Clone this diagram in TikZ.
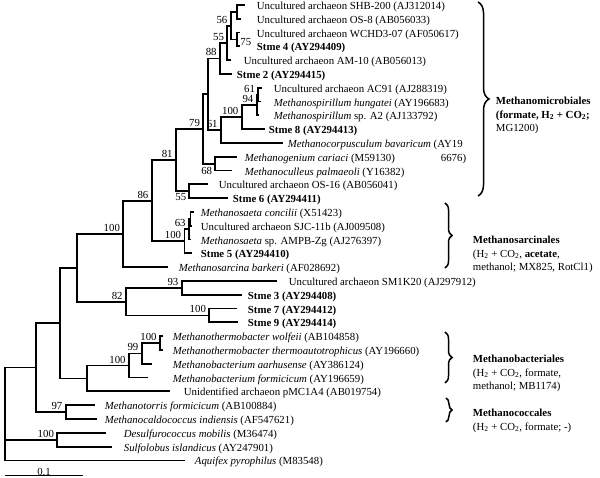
\documentclass[tikz,border=0pt]{standalone}
\usepackage{fontspec}
\setmainfont{Liberation Serif}
\usepackage{tikz}
\usetikzlibrary{decorations.pathreplacing}

\begin{document}
\begin{tikzpicture}[x=1pt, y=-1pt, line width=1.8pt,
  taxon/.style  = {anchor=base west, inner sep=0pt,
                   font=\fontsize{10.8}{13.8}\selectfont},
  strain/.style = {taxon, font=\fontsize{10.8}{13.8}\selectfont\bfseries},
  boot/.style   = {anchor=base east, inner sep=0pt, xshift=-2.5pt, yshift=2.5pt,
                   font=\fontsize{10.8}{13.8}\selectfont},
  bootat/.style = {anchor=base east, inner sep=0pt,
                   font=\fontsize{10.8}{13.8}\selectfont},
  order/.style  = {anchor=north west, align=left, inner sep=0pt,
                   font=\fontsize{10.8}{13.8}\selectfont},
  clade/.style  = {decorate, decoration={brace, amplitude=#1}, line width=1.5pt}
]
  \useasboundingbox (0,0) rectangle (600,478);

  %% leaf tips
  \coordinate (l1)  at (245,   5.0);
  \coordinate (l2)  at (241,  18.8);
  \coordinate (l3)  at (240,  32.6);
  \coordinate (l4)  at (240,  46.4);
  \coordinate (l5)  at (231,  60.2);
  \coordinate (l6)  at (232,  74.0);
  \coordinate (l7)  at (262,  87.8);
  \coordinate (l8)  at (261, 101.6);
  \coordinate (l9)  at (259, 115.4);
  \coordinate (l10) at (265, 129.2);
  \coordinate (l11) at (283, 143.0);
  \coordinate (l12) at (237, 156.8);
  \coordinate (l13) at (232, 170.6);
  \coordinate (l14) at (208, 184.4);
  \coordinate (l15) at (228, 198.2);
  \coordinate (l16) at (194, 212.0);
  \coordinate (l17) at (192, 225.8);
  \coordinate (l18) at (191, 239.6);
  \coordinate (l19) at (192, 253.4);
  \coordinate (l20) at (168, 267.2);
  \coordinate (l21) at (277, 281.0);
  \coordinate (l22) at (242, 294.8);
  \coordinate (l23) at (237, 308.6);
  \coordinate (l24) at (238, 322.4);
  \coordinate (l25) at (162.5, 336.2);
  \coordinate (l26) at (162.5, 350.0);
  \coordinate (l27) at (151.7, 363.8);
  \coordinate (l28) at (148.3, 377.6);
  \coordinate (l29) at (170, 391.4);
  \coordinate (l30) at (95,  405.2);
  \coordinate (l31) at (96.7, 419.0);
  \coordinate (l32) at (106, 432.8);
  \coordinate (l33) at (111.7, 446.6);
  \coordinate (l34) at (185, 460.4);

  %% internal nodes
  \coordinate (nA)  at (237.3,  11.9);
  \coordinate (nB)  at (236.7,  39.5);
  \coordinate (nC)  at (230.7,  25.7);
  \coordinate (nD)  at (227.3,  42.95);
  \coordinate (nE)  at (220,    58.5);
  \coordinate (nP1) at (258.3,  94.7);
  \coordinate (nP2) at (256.7, 105.05);
  \coordinate (nP3) at (241.7, 117.1);
  \coordinate (nP4) at (221,   130.05);
  \coordinate (nF)  at (208.3,  94.3);
  \coordinate (nG)  at (215,   163.7);
  \coordinate (nH)  at (203.3, 129);
  \coordinate (nJ)  at (189.3, 191.3);
  \coordinate (nK)  at (176,   160.15);
  \coordinate (nS1) at (190.5, 218.9);
  \coordinate (nS2) at (189,   229.25);
  \coordinate (nS3) at (184.5, 241.3);
  \coordinate (nL)  at (151.7, 200.7);
  \coordinate (nM3) at (123.3, 233.95);
  \coordinate (nQ1) at (181.7, 287.9);
  \coordinate (nQ2) at (209.3, 315.5);
  \coordinate (nQ3) at (126,   301.7);
  \coordinate (nM2) at (76.7,  267.8);
  \coordinate (nW)  at (160,   343.1);
  \coordinate (nV)  at (141.7, 353.45);
  \coordinate (nU)  at (129,   365.5);
  \coordinate (nMB) at (87.3,  378.45);
  \coordinate (nM1) at (60,    323.1);
  \coordinate (nT)  at (65.7,  412.1);
  \coordinate (nM0) at (36,    367.6);
  \coordinate (nR)  at (57.3,  439.7);
  \coordinate (root) at (5,    414);

  %% branches
  \draw (nA) |- (l1)   (nA) |- (l2);
  \draw (nB) |- (l3)   (nB) |- (l4);
  \draw (nC) |- (nA)   (nC) |- (nB);
  \draw (nD) |- (nC)   (nD) |- (l5);
  \draw (nE) |- (nD)   (nE) |- (l6);
  \draw (nP1) |- (l7)  (nP1) |- (l8);
  \draw (nP2) |- (nP1) (nP2) |- (l9);
  \draw (nP3) |- (nP2) (nP3) |- (l10);
  \draw (nP4) |- (nP3) (nP4) |- (l11);
  \draw (nF) |- (nE)   (nF) |- (nP4);
  \draw (nG) |- (l12)  (nG) |- (l13);
  \draw (nH) |- (nF)   (nH) |- (nG);
  \draw (nJ) |- (l14)  (nJ) |- (l15);
  \draw (nK) |- (nH)   (nK) |- (nJ);
  \draw (nS1) |- (l16) (nS1) |- (l17);
  \draw (nS2) |- (nS1) (nS2) |- (l18);
  \draw (nS3) |- (nS2) (nS3) |- (l19);
  \draw (nL) |- (nK)   (nL) |- (nS3);
  \draw (nM3) |- (nL)  (nM3) |- (l20);
  \draw (nQ1) |- (l21) (nQ1) |- (l22);
  \draw (nQ2) |- (l23) (nQ2) |- (l24);
  \draw (nQ3) |- (nQ1) (nQ3) |- (nQ2);
  \draw (nM2) |- (nM3) (nM2) |- (nQ3);
  \draw (nW) |- (l25)  (nW) |- (l26);
  \draw (nV) |- (nW)   (nV) |- (l27);
  \draw (nU) |- (nV)   (nU) |- (l28);
  \draw (nMB) |- (nU)  (nMB) |- (l29);
  \draw (nM1) |- (nM2) (nM1) |- (nMB);
  \draw (nT) |- (l30)  (nT) |- (l31);
  \draw (nM0) |- (nM1) (nM0) |- (nT);
  \draw (nR) |- (l32)  (nR) |- (l33);
  \draw (root) |- (nM0) (root) |- (nR) (root) |- (l34);

  %% bootstrap values
  \node[boot] (bC)  at (nC)  {56};
  \node[bootat, anchor=base west] (bB) at (239.5, 45.3) {75};
  \node[boot] (bD)  at (nD)  {55};
  \node[boot] (bE)  at (nE)  {88};
  \node[boot] (bP1) at (nP1) {61};
  \node[boot] (bP2) at (nP2) {94};
  \node[boot] (bP3) at (nP3) {100};
  \node[boot] (bP4) at (nP4) {61};
  \node[boot] (bH)  at (nH)  {79};
  \node[bootat] (bG) at (213, 174.4) {68};
  \node[boot] (bK)  at (nK)  {81};
  \node[bootat] (bJ) at (187.1, 200.4) {55};
  \node[boot] (bL)  at (nL)  {86};
  \node[boot] (bS2) at (nS2) {63};
  \node[boot] (bS3) at (nS3) {100};
  \node[boot] (bM3) at (nM3) {100};
  \node[boot] (bQ1) at (nQ1) {93};
  \node[boot] (bQ2) at (nQ2) {100};
  \node[boot] (bQ3) at (nQ3) {82};
  \node[boot] (bW)  at (nW)  {100};
  \node[boot] (bV)  at (nV)  {99};
  \node[boot] (bU)  at (nU)  {100};
  \node[boot] (bT)  at (nT)  {97};
  \node[boot] (bR)  at (nR)  {100};

  %% taxa
  \node[taxon]  (t1)  at (256,   9.5) {Uncultured archaeon SHB-200 (AJ312014)};
  \node[taxon]  (t2)  at (256,  23.3) {Uncultured archaeon OS-8 (AB056033)};
  \node[taxon]  (t3)  at (256,  37.1) {Uncultured archaeon WCHD3-07 (AF050617)};
  \node[strain] (t4)  at (256,  50.9) {Stme 4 (AY294409)};
  \node[taxon]  (t5)  at (243,  64.7) {Uncultured archaeon AM-10 (AB056013)};
  \node[strain] (t6)  at (236,  78.5) {Stme 2 (AY294415)};
  \node[taxon]  (t7)  at (273,  92.3) {Uncultured archaeon AC91 (AJ288319)};
  \node[taxon]  (t8)  at (273, 106.1) {\textit{Methanospirillum hungatei} (AY196683)};
  \node[taxon]  (t9)  at (273, 119.9) {\textit{Methanospirillum} sp. A2 (AJ133792)};
  \node[strain] (t10) at (268, 133.7) {Stme 8 (AY294413)};
  \node[taxon]  (t11) at (287, 147.5) {\textit{Methanocorpusculum bavaricum} (AY19};
  \node[taxon, anchor=base east] (t11b) at (467, 161.3) {6676)};
  \node[taxon]  (t12) at (244, 161.3) {\textit{Methanogenium cariaci} (M59130)};
  \node[taxon]  (t13) at (244, 175.1) {\textit{Methanoculleus palmaeoli} (Y16382)};
  \node[taxon]  (t14) at (218, 188.9) {Uncultured archaeon OS-16 (AB056041)};
  \node[strain] (t15) at (232, 202.7) {Stme 6 (AY294411)};
  \node[taxon]  (t16) at (200, 216.5) {\textit{Methanosaeta concilii} (X51423)};
  \node[taxon]  (t17) at (200, 230.3) {Uncultured archaeon SJC-11b (AJ009508)};
  \node[taxon]  (t18) at (200, 244.1) {\textit{Methanosaeta} sp. AMPB-Zg (AJ276397)};
  \node[strain] (t19) at (200, 257.9) {Stme 5 (AY294410)};
  \node[taxon]  (t20) at (178, 271.7) {\textit{Methanosarcina barkeri} (AF028692)};
  \node[taxon]  (t21) at (288, 285.5) {Uncultured archaeon SM1K20 (AJ297912)};
  \node[strain] (t22) at (247, 299.3) {Stme 3 (AY294408)};
  \node[strain] (t23) at (247, 313.1) {Stme 7 (AY294412)};
  \node[strain] (t24) at (247, 326.9) {Stme 9 (AY294414)};
  \node[taxon]  (t25) at (172, 340.7) {\textit{Methanothermobacter wolfeii} (AB104858)};
  \node[taxon]  (t26) at (172, 354.5) {\textit{Methanothermobacter thermoautotrophicus} (AY196660)};
  \node[taxon]  (t27) at (172, 368.3) {\textit{Methanobacterium aarhusense} (AY386124)};
  \node[taxon]  (t28) at (172, 382.1) {\textit{Methanobacterium formicicum} (AY196659)};
  \node[taxon]  (t29) at (183, 395.9) {Unidentified archaeon pMC1A4 (AB019754)};
  \node[taxon]  (t30) at (104, 409.7) {\textit{Methanotorris formicicum} (AB100884)};
  \node[taxon]  (t31) at (104, 423.5) {\textit{Methanocaldococcus indiensis} (AF547621)};
  \node[taxon]  (t32) at (123, 437.3) {\textit{Desulfurococcus mobilis} (M36474)};
  \node[taxon]  (t33) at (123, 451.1) {\textit{Sulfolobus islandicus} (AY247901)};
  \node[taxon]  (t34) at (194, 464.9) {\textit{Aquifex pyrophilus} (M83548)};

  %% orders
  \coordinate (mm1) at (478,   2);   \coordinate (mm2) at (478, 196);
  \coordinate (ms1) at (445, 203);   \coordinate (ms2) at (445, 268);
  \coordinate (mb1) at (445, 332);   \coordinate (mb2) at (445, 383);
  \coordinate (mc1) at (446, 398);   \coordinate (mc2) at (446, 422);
  \draw[clade=11] (mm1) -- (mm2);
  \draw[clade=7]  (ms1) -- (ms2);
  \draw[clade=7]  (mb1) -- (mb2);
  \draw[clade=6]  (mc1) -- (mc2);

  \node[order] (omm) at (495, 96)
    {\textbf{Methanomicrobiales}\\
     \textbf{(formate, H\textsubscript{2} + CO\textsubscript{2};}\\
     MG1200)};
  \node[order] (oms) at (472, 235)
    {\textbf{Methanosarcinales}\\
     (H\textsubscript{2} + CO\textsubscript{2}, \textbf{acetate},\\
     methanol; MX825, RotCl1)};
  \node[order] (omb) at (472, 354)
    {\textbf{Methanobacteriales}\\
     (H\textsubscript{2} + CO\textsubscript{2}, formate,\\
     methanol; MB1174)};
  \node[order] (omc) at (472, 408)
    {\textbf{Methanococcales}\\
     (H\textsubscript{2} + CO\textsubscript{2}, formate; -)};

  %% scale bar
  \coordinate (sb1) at (5, 475.5);
  \coordinate (sb2) at (83, 475.5);
  \draw[line width=1.3pt] (sb1) -- node[above=-1pt, inner sep=0pt,
    font=\fontsize{10.8}{13.8}\selectfont] (sbl) {0.1} (sb2);
\end{tikzpicture}
\end{document}
